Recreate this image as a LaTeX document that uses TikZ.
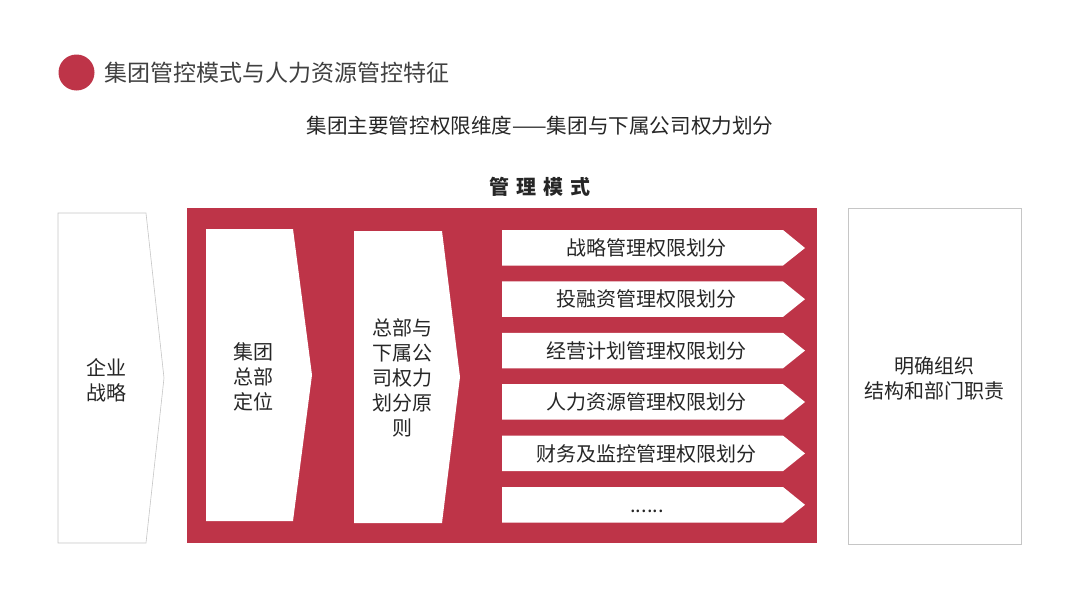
\documentclass[tikz,border=0pt]{standalone}
\usepackage{fontspec}
\setmainfont{Noto Sans CJK SC}
\usetikzlibrary{positioning}

\definecolor{rouge}{RGB}{190,52,72}
\definecolor{gristexte}{RGB}{64,64,64}

\tikzset{
  cadre/.style={draw=gray!45, line width=0.6pt, fill=white},
  fleche/.style={fill=white, draw=none},
  texte/.style={font=\fontsize{20}{25}\selectfont, align=center, text=black!85},
}

\begin{document}
\begin{tikzpicture}[x=1pt, y=-1pt]

\useasboundingbox
(0,0)
rectangle
(1080,608);

% Titre
\fill[rouge]
(76.5,72.5)
circle
(18);

\node[anchor=west, font=\fontsize{23}{28}\selectfont, text=gristexte]
(titre)
at (101,73)
{集团管控模式与人力资源管控特征};

\node[font=\fontsize{20.6}{24}\selectfont, text=black!85]
(soustitre)
at (540,126)
{集团主要管控权限维度——集团与下属公司权力划分};

\node[font=\bfseries\fontsize{20}{24}\selectfont, text=black!85]
(mode)
at (540,187)
{管\hspace{7pt}理\hspace{7pt}模\hspace{7pt}式};

% Boîte gauche
\draw[cadre]
(58,213)
--
(146,213)
--
(164,378)
--
(146,543)
--
(58,543)
--
cycle;

\node[texte]
(strategie)
at (106,380)
{企业\\战略};

% Bloc rouge
\fill[rouge]
(187,208)
rectangle
(817,543);

\fill[fleche]
(206,229)
--
(293,229)
--
(312,375)
--
(293,521)
--
(206,521)
--
cycle;

\node[texte]
(siege)
at (253,377)
{集团\\总部\\定位};

\fill[fleche]
(354,231)
--
(442,231)
--
(460,377)
--
(442,523)
--
(354,523)
--
cycle;

\node[texte]
(principe)
at (402,378)
{总部与\\下属公\\司权力\\划分原\\则};

% Barres
\fill[fleche]
(502,230)
--
(783,230)
--
(805,248)
--
(783,265.5)
--
(502,265.5)
--
cycle;

\node[texte]
(barre1)
at (646,248)
{战略管理权限划分};

\fill[fleche]
(502,281.4)
--
(783,281.4)
--
(805,299.2)
--
(783,316.9)
--
(502,316.9)
--
cycle;

\node[texte]
(barre2)
at (646,299)
{投融资管理权限划分};

\fill[fleche]
(502,332.8)
--
(783,332.8)
--
(805,350.6)
--
(783,368.3)
--
(502,368.3)
--
cycle;

\node[texte]
(barre3)
at (646,350.5)
{经营计划管理权限划分};

\fill[fleche]
(502,384.2)
--
(783,384.2)
--
(805,402)
--
(783,419.7)
--
(502,419.7)
--
cycle;

\node[texte]
(barre4)
at (646,402)
{人力资源管理权限划分};

\fill[fleche]
(502,435.6)
--
(783,435.6)
--
(805,453.4)
--
(783,471.1)
--
(502,471.1)
--
cycle;

\node[texte]
(barre5)
at (646,453.5)
{财务及监控管理权限划分};

\fill[fleche]
(502,487)
--
(783,487)
--
(805,504.8)
--
(783,522.5)
--
(502,522.5)
--
cycle;

\node[texte]
(barre6)
at (647,511)
{......};

% Boîte droite
\draw[cadre]
(848,208)
rectangle
(1021,544);

\node[texte]
(fonctions)
at (934.5,378)
{明确组织\\结构和部门职责};

\end{tikzpicture}
\end{document}
